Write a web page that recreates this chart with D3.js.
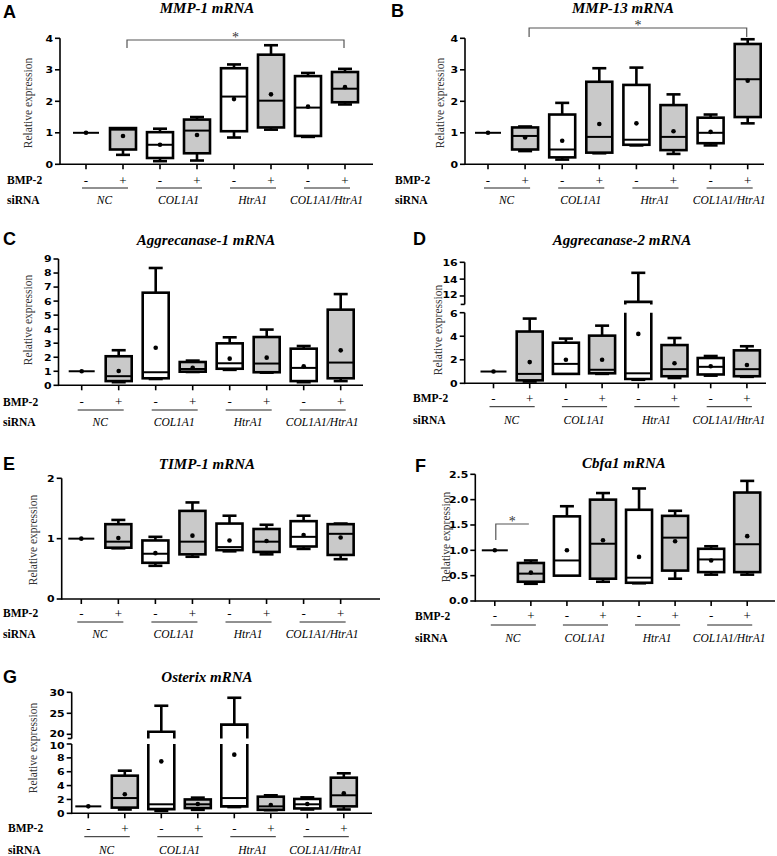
<!DOCTYPE html>
<html><head><meta charset="utf-8">
<script src="https://cdn.jsdelivr.net/npm/d3@7"></script>
<style>body{margin:0;background:#fff}</style>
</head><body>
<svg id="c" width="777" height="856"></svg>
<script>
// ---------- DATA ----------
const groups = ["NC", "COL1A1", "HtrA1", "COL1A1/HtrA1"];
const bmpSigns = ["-", "+", "-", "+", "-", "+", "-", "+"];
const rowLabels = ["BMP-2", "siRNA"];
const yLabel = "Relative expression";
const panelLetters = ["A", "B", "C", "D", "E", "F", "G"];
const panelTitles = ["MMP-1 mRNA", "MMP-13 mRNA", "Aggrecanase-1 mRNA", "Aggrecanase-2 mRNA", "TIMP-1 mRNA", "Cbfa1 mRNA", "Osterix mRNA"];

// each row: [min, q1, median, q3, max, mean]
const mmp1Box = [
  [1, 1, 1, 1, 1, 1],
  [0.3, 0.47, 1.1, 1.15, 1.15, 0.9],
  [0.1, 0.2, 0.62, 1.02, 1.13, 0.62],
  [0.12, 0.35, 1.07, 1.42, 1.5, 0.93],
  [0.85, 1.05, 2.15, 3.05, 3.17, 2.07],
  [1.1, 1.17, 2.02, 3.48, 3.78, 2.22],
  [0.87, 0.9, 1.8, 2.8, 2.9, 1.83],
  [1.9, 1.97, 2.4, 2.93, 3.03, 2.45]];
const mmp13Box = [
  [1, 1, 1, 1, 1, 1],
  [0.42, 0.47, 0.9, 1.17, 1.2, 0.85],
  [0.15, 0.22, 0.47, 1.58, 1.95, 0.75],
  [0.35, 0.37, 0.87, 2.62, 3.05, 1.28],
  [0.6, 0.62, 0.78, 2.52, 3.07, 1.3],
  [0.33, 0.45, 0.87, 1.88, 2.22, 1.05],
  [0.6, 0.67, 1.0, 1.48, 1.58, 1.03],
  [1.3, 1.5, 2.7, 3.82, 3.97, 2.65]];
const aggr1Box = [
  [1, 1, 1, 1, 1, 1],
  [0.22, 0.3, 0.65, 2.07, 2.5, 1.02],
  [0.45, 0.5, 0.93, 6.6, 8.36, 2.68],
  [0.95, 0.97, 1.16, 1.66, 1.76, 1.25],
  [1.1, 1.18, 1.57, 2.99, 3.42, 1.9],
  [0.9, 0.93, 1.55, 3.44, 3.97, 1.97],
  [0.22, 0.3, 1.24, 2.61, 2.8, 1.35],
  [0.3, 0.5, 1.62, 5.39, 6.5, 2.49]];
const aggr2Box = [
  [1, 1, 1, 1, 1, 1],
  [0.15, 0.25, 0.8, 4.4, 5.5, 1.8],
  [0.8, 0.8, 1.65, 3.45, 3.8, 2.0],
  [0.8, 0.85, 1.15, 4.05, 4.9, 2.0],
  [0.3, 0.37, 0.85, 11.3, 14.75, 4.2],
  [0.45, 0.6, 1.2, 3.25, 3.85, 1.7],
  [0.65, 0.75, 1.4, 2.15, 2.32, 1.45],
  [0.55, 0.6, 1.2, 2.8, 3.15, 1.55]];
const timp1Box = [
  [1, 1, 1, 1, 1, 1],
  [0.84, 0.85, 0.95, 1.24, 1.31, 1.01],
  [0.55, 0.6, 0.75, 0.97, 1.03, 0.76],
  [0.7, 0.74, 0.95, 1.46, 1.6, 1.05],
  [0.79, 0.81, 0.86, 1.25, 1.38, 0.97],
  [0.74, 0.78, 0.95, 1.16, 1.23, 0.96],
  [0.83, 0.87, 1.03, 1.29, 1.38, 1.06],
  [0.66, 0.73, 1.08, 1.24, 1.25, 1.02]];
const cbfa1Box = [
  [1, 1, 1, 1, 1, 1],
  [0.34, 0.38, 0.54, 0.75, 0.8, 0.56],
  [0.5, 0.5, 0.8, 1.67, 1.87, 1.0],
  [0.38, 0.44, 1.13, 2.0, 2.13, 1.2],
  [0.35, 0.36, 0.46, 1.8, 2.22, 0.87],
  [0.44, 0.6, 1.25, 1.68, 1.78, 1.18],
  [0.52, 0.57, 0.82, 1.03, 1.08, 0.8],
  [0.52, 0.57, 1.12, 2.14, 2.37, 1.28]];
const osterixBox = [
  [1, 1, 1, 1, 1, 1],
  [0.55, 0.82, 2.2, 5.43, 6.15, 2.75],
  [0.35, 0.6, 1.3, 20.6, 26.8, 7.5],
  [0.5, 0.75, 1.3, 2.0, 2.26, 1.35],
  [0.9, 1.0, 2.2, 22.3, 28.7, 8.46],
  [0.45, 0.5, 1.0, 2.4, 2.6, 1.2],
  [0.55, 0.7, 1.3, 2.07, 2.3, 1.35],
  [0.55, 1.0, 2.6, 5.14, 5.77, 2.9]];

const mmpTicks = [0, 1, 2, 3, 4];
const aggr1Ticks = [0, 1, 2, 3, 4, 5, 6, 7, 8, 9];
const aggr2TicksLow = [0, 2, 4, 6];
const aggr2TicksHigh = [12, 14, 16];
const timp1Ticks = [0, 1, 2];
const cbfa1Ticks = [0, 0.5, 1.0, 1.5, 2.0, 2.5];
const osterixTicksLow = [0, 2, 4, 6, 8, 10];
const osterixTicksHigh = [20, 25, 30];

// ---------- LAYOUT ----------
const panels = [
  {data: mmp1Box, ticks: mmpTicks, lo: [0, 4], loPx: [164.3, 38.3], ax: 60, x0: 86, dx: 37, xEnd: 373,
   rows: [180, 188, 200], title: [207, 8.3], letter: [3, 18], ylab: [28, 103], labX: 7, fmt: d3.format("d"),
   sig: {type: "long", from: 1, to: 7, y: 40, drop: 8}},
  {data: mmp13Box, ticks: mmpTicks, lo: [0, 4], loPx: [164.3, 38.3], ax: 465, x0: 488, dx: 37.1, xEnd: 764,
   rows: [180, 188, 200], title: [623, 8.0], letter: [391, 17], ylab: [440, 103], labX: 395, fmt: d3.format("d"),
   sig: {type: "long", from: 1, to: 7, y: 28, drop: 9}},
  {data: aggr1Box, ticks: aggr1Ticks, lo: [0, 9], loPx: [385.3, 259], ax: 58.5, x0: 81.7, dx: 37, xEnd: 363,
   rows: [401.7, 410, 421.7], title: [206, 240], letter: [3, 245], ylab: [28, 320], labX: 3, fmt: d3.format("d")},
  {data: aggr2Box, ticks: aggr2TicksLow, ticksHi: aggr2TicksHigh, lo: [0, 6], loPx: [383.3, 312.7], hi: [11, 16], hiPx: [304.4, 262.3],
   ax: 464.7, x0: 493.5, dx: 36.2, xEnd: 766, rows: [398.3, 406.7, 420], title: [622, 240], letter: [413, 245], ylab: [438, 330], labX: 413, fmt: d3.format("d")},
  {data: timp1Box, ticks: timp1Ticks, lo: [0, 2], loPx: [599, 478.3], ax: 61.7, x0: 81.3, dx: 37.05, xEnd: 380,
   rows: [613, 622, 634], title: [207, 464], letter: [3, 470], ylab: [33, 540], labX: 3, fmt: d3.format("d")},
  {data: cbfa1Box, ticks: cbfa1Ticks, lo: [0, 2.5], loPx: [601, 474.3], ax: 475.3, x0: 494.8, dx: 36.06, xEnd: 775,
   rows: [615.7, 625, 637.7], title: [624, 463.3], letter: [415, 472], ylab: [446, 537], labX: 415, fmt: d3.format(".1f"),
   sig: {type: "short", from: 0, to: 1, yStart: 540, y: 524}},
  {data: osterixBox, ticks: osterixTicksLow, ticksHi: osterixTicksHigh, lo: [0, 10], loPx: [813.3, 744], hi: [19, 30], hiPx: [738.5, 692.3],
   ax: 71.7, x0: 88.3, dx: 36.5, xEnd: 372, rows: [828, 836.7, 850], title: [207, 677], letter: [3, 683], ylab: [33, 748], labX: 8, fmt: d3.format("d")}
];

const svg = d3.select("#c");
const BOXW = 26, CAPW = 14, GREY = "#c9c9c9";
const serif = "Liberation Serif, DejaVu Serif, Times New Roman, serif";
const sans = "Liberation Sans, Arial, sans-serif";
const tickFont = "DejaVu Sans, sans-serif";
const TICKFS = 9.5;

panels.forEach((p, pi) => {
  const g = svg.append("g");
  const x = d3.scaleLinear().domain([0, 7]).range([p.x0, p.x0 + 7 * p.dx]);
  const yLo = d3.scaleLinear().domain(p.lo).range(p.loPx);
  const yHi = p.hi ? d3.scaleLinear().domain(p.hi).range(p.hiPx) : null;
  const inHi = v => yHi && v > p.lo[1];
  const y = v => inHi(v) ? yHi(Math.max(v, p.hi[0])) : yLo(Math.min(v, p.lo[1]));

  // letter & title
  g.append("text").attr("x", p.letter[0]).attr("y", p.letter[1]).text(panelLetters[pi])
    .style("font-family", sans).attr("font-weight", "bold").attr("font-size", 18);
  g.append("text").attr("x", p.title[0]).attr("y", p.title[1] + 5).text(panelTitles[pi])
    .attr("text-anchor", "middle").style("font-family", serif).attr("font-weight", "bold")
    .attr("font-style", "italic").attr("font-size", 15);

  // y label
  g.append("text").attr("transform", `translate(${p.ylab[0]},${p.ylab[1]}) rotate(-90)`)
    .attr("text-anchor", "middle").attr("dy", "0.35em").text(yLabel)
    .style("font-family", serif).attr("font-size", 11.5).attr("fill", "#333");

  // y axis segments
  const axG = g.append("g").attr("stroke", "#000").attr("stroke-width", 1.6).attr("fill", "none");
  axG.append("line").attr("x1", p.ax).attr("x2", p.ax).attr("y1", yLo(p.lo[0]) + 0.8).attr("y2", yLo(p.lo[1]));
  const drawTicks = (ticks, sc, nudgeEnd) => {
    ticks.forEach((t, k) => {
      axG.append("line").attr("x1", p.ax - 5).attr("x2", p.ax).attr("y1", sc(t)).attr("y2", sc(t));
      let ny = 0;
      if (yHi && nudgeEnd === "last" && k === ticks.length - 1) ny = 1.2;
      if (yHi && nudgeEnd === "first" && k === 0) ny = -1.2;
      g.append("text").attr("transform", `translate(${p.ax - 7},${sc(t) + 3.4 + ny}) scale(1.15,1)`)
        .attr("text-anchor", "end").text(p.fmt(t))
        .style("font-family", tickFont).attr("font-weight", "bold").attr("font-size", TICKFS);
    });
  };
  drawTicks(p.ticks, yLo, "last");
  if (yHi) {
    axG.append("line").attr("x1", p.ax).attr("x2", p.ax).attr("y1", yHi(p.hi[0])).attr("y2", yHi(p.hi[1]));
    axG.append("line").attr("x1", p.ax - 4).attr("x2", p.ax).attr("y1", yHi(p.hi[0])).attr("y2", yHi(p.hi[0]));
    drawTicks(p.ticksHi, yHi, "first");
  }
  // x axis
  axG.append("line").attr("x1", p.ax).attr("x2", p.xEnd).attr("y1", yLo(0)).attr("y2", yLo(0));
  d3.range(8).forEach(i => {
    axG.append("line").attr("x1", x(i)).attr("x2", x(i)).attr("y1", yLo(0)).attr("y2", yLo(0) + 5);
  });

  // boxes
  p.data.forEach((d, i) => {
    const [mn, q1, med, q3, mx, mean] = d;
    const cx = x(i), l = cx - BOXW / 2, r = cx + BOXW / 2;
    const fill = i % 2 ? GREY : "#fff";
    const bg = g.append("g");
    const sw = 2.6;
    const wh = (a, b) => {
      bg.append("line").attr("x1", cx).attr("x2", cx).attr("y1", y(a)).attr("y2", y(b))
        .attr("stroke", "#000").attr("stroke-width", sw);
      bg.append("line").attr("x1", cx - CAPW / 2).attr("x2", cx + CAPW / 2).attr("y1", y(b)).attr("y2", y(b))
        .attr("stroke", "#000").attr("stroke-width", sw);
    };
    if (mx > q3) wh(q3, mx);
    if (mn < q1) wh(q1, mn);
    if (inHi(q3) && !inHi(q1)) {
      const yb = y(q1), yt = yLo(p.lo[1]);
      bg.append("rect").attr("x", l).attr("y", yt).attr("width", BOXW).attr("height", yb - yt).attr("fill", fill);
      bg.append("path").attr("d", `M${l},${yt}V${yb}H${r}V${yt}`).attr("fill", "none")
        .attr("stroke", "#000").attr("stroke-width", sw);
      const yb2 = yHi(p.hi[0]), yt2 = y(q3);
      bg.append("rect").attr("x", l).attr("y", yt2).attr("width", BOXW).attr("height", yb2 - yt2).attr("fill", fill);
      bg.append("path").attr("d", `M${l},${yb2}V${yt2}H${r}V${yb2}`).attr("fill", "none")
        .attr("stroke", "#000").attr("stroke-width", sw);
    } else {
      const yb = y(q1), yt = y(q3);
      bg.append("rect").attr("x", l).attr("y", yt).attr("width", BOXW).attr("height", Math.max(0, yb - yt))
        .attr("fill", fill).attr("stroke", "#000").attr("stroke-width", sw);
    }
    bg.append("line").attr("x1", l).attr("x2", r).attr("y1", y(med)).attr("y2", y(med))
      .attr("stroke", "#000").attr("stroke-width", 2);
    bg.append("circle").attr("cx", cx).attr("cy", y(mean)).attr("r", 2.3).attr("fill", "#000");
  });

  // bottom labels
  g.append("text").attr("x", p.labX).attr("y", p.rows[0] + 4).text(rowLabels[0])
    .style("font-family", serif).attr("font-weight", "bold").attr("font-size", 11.5);
  g.append("text").attr("x", p.labX).attr("y", p.rows[2] + 4).text(rowLabels[1])
    .style("font-family", serif).attr("font-weight", "bold").attr("font-size", 11.5);
  bmpSigns.forEach((s, i) => {
    g.append("text").attr("x", x(i)).attr("y", p.rows[0] + 4.5).text(s).attr("text-anchor", "middle")
      .style("font-family", serif).attr("font-size", 13).attr("fill", "#000");
  });
  groups.forEach((gr, k) => {
    const a = x(2 * k), b = x(2 * k + 1);
    g.append("line").attr("x1", a - 4).attr("x2", b + 5).attr("y1", p.rows[1]).attr("y2", p.rows[1])
      .attr("stroke", "#222").attr("stroke-width", 1);
    g.append("text").attr("x", (a + b) / 2).attr("y", p.rows[2] + 4).text(gr).attr("text-anchor", "middle")
      .style("font-family", serif).attr("font-style", "italic").attr("font-size", 11.5);
  });

  // significance
  if (p.sig) {
    const s = p.sig;
    const sg = g.append("g").attr("stroke", "#555").attr("stroke-width", 1.2).attr("fill", "none");
    if (s.type === "long") {
      const x1 = x(s.from) + 4, x2 = x(s.to) - 1;
      sg.append("path").attr("d", `M${x1},${s.y + s.drop}V${s.y}H${x2}V${s.y + s.drop}`);
      g.append("text").attr("x", (x1 + x2) / 2).attr("y", s.y + 2).text("*").attr("text-anchor", "middle")
        .style("font-family", serif).attr("font-size", 14).attr("fill", "#333");
    } else {
      const x1 = x(s.from) + 1, x2 = x(s.to) - 2;
      sg.append("path").attr("d", `M${x1},${s.yStart}V${s.y}H${x2}`);
      g.append("text").attr("x", (x1 + x2) / 2).attr("y", s.y + 2).text("*").attr("text-anchor", "middle")
        .style("font-family", serif).attr("font-size", 14).attr("fill", "#333");
    }
  }
});
</script>
</body></html>
